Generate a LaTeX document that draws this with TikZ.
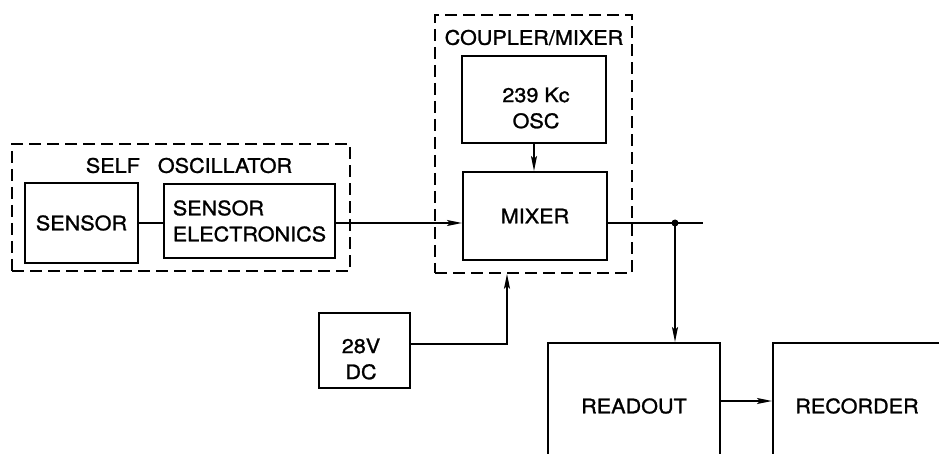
\documentclass[tikz,border=0pt]{standalone}
\usepackage{fontspec}
\setmainfont{TeX Gyre Heros}[FakeStretch=1.08,FakeBold=1.2]
\usetikzlibrary{arrows.meta}
\begin{document}
\begin{tikzpicture}[x=1pt,y=-1pt,
  lbl/.style={font=\fontsize{20}{26}\selectfont, align=center, inner sep=0pt},
  box/.style={lbl, draw, line width=2pt, rectangle},
  group/.style={draw, line width=1.7pt, dash pattern=on 12pt off 6pt, inner sep=0pt, rectangle},
  wire/.style={line width=1.7pt},
  arr/.style={wire, -{Stealth[length=15pt,width=6pt,inset=3pt]}}]
\useasboundingbox (0,0) rectangle (939,454);
\clip (0,0) rectangle (939,454);
% groups
\node[group, minimum width=338pt, minimum height=127pt] (selfosc) at (181,207.5) {};
\node[group, minimum width=197pt, minimum height=258pt] (coupler) at (533.5,144) {};
\node[lbl] (selflbl) at (189,165.5) {SELF\hspace{0.9em}OSCILLATOR};
\node[lbl] (cplbl) at (534,37.5) {COUPLER/MIXER};
% blocks
\node[box, minimum width=113pt, minimum height=80pt] (sensor) at (81.5,223) {SENSOR};
\node[box, align=left, minimum width=171pt, minimum height=74pt] (se) at (249.5,221) {SENSOR\\ELECTRONICS};
\node[box, minimum width=144pt, minimum height=87pt] (osc) at (534,99.5) {};
\node[lbl] (osct) at (536,108) {239 Kc\\OSC};
\node[box, minimum width=144pt, minimum height=88pt] (mixer) at (535,216) {MIXER};
\node[box, minimum width=91pt, minimum height=75pt] (v28) at (364.5,350.5) {};
\node[lbl] (v28t) at (361,359) {28V\\DC};
\node[box, minimum width=172pt, minimum height=126pt] (readout) at (634,406) {READOUT};
\node[box, minimum width=168pt, minimum height=126pt] (recorder) at (857,406) {RECORDER};
% connectors
\coordinate (sig) at (0,223);
\coordinate (tap) at (675,223);
\coordinate (outend) at (703,223);
\coordinate (bend) at (507,344);
\draw[wire] (sensor.east) -- (sensor.east -| se.west);
\draw[arr] (se.east |- sig) -- (mixer.west |- sig);
\draw[wire] (mixer.east |- sig) -- (outend);
\fill (tap) circle (3.5pt);
\draw[arr] (tap) -- (tap |- readout.north);
\draw[arr] (osc.south) -- (osc.south |- mixer.north);
\draw[arr] (v28.east |- bend) -- (bend) -- (bend |- coupler.south);
\draw[arr] ([yshift=5pt]readout.east) -- ([yshift=5pt]recorder.west);
\end{tikzpicture}
\end{document}
